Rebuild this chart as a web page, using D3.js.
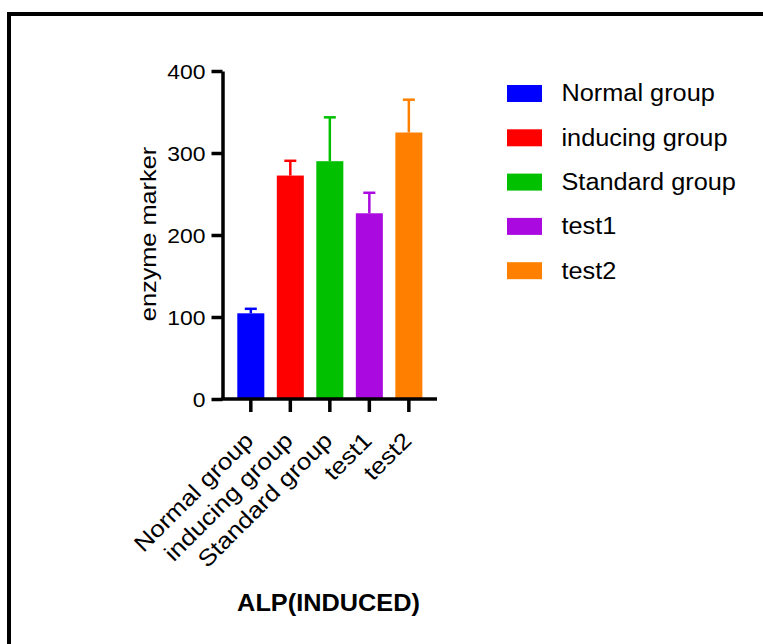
<!DOCTYPE html>
<html><head><meta charset="utf-8">
<script src="https://cdn.jsdelivr.net/npm/d3@7"></script>
<style>body{margin:0;background:#fff}svg{display:block}text{font-family:"Liberation Sans",Arial,sans-serif;fill:#000}</style>
</head><body><svg id="c" width="763" height="644"></svg>
<script>
const categories = ["Normal group","inducing group","Standard group","test1","test2"];
const means = [104.5, 272.5, 290, 226.5, 325];
const errors = [5.5, 18, 53.5, 25, 40];
const colors = ["#0000FF","#FF0000","#00C000","#AA0ADF","#FF8000"];
const yTicks = [0,100,200,300,400];
const yLabel = "enzyme marker";
const title = "ALP(INDUCED)";

const svg = d3.select("#c");
// frame
svg.append("path").attr("d","M9,800 V14 H900").attr("fill","none").attr("stroke","#000").attr("stroke-width",4);

const x = d3.scaleBand().domain(categories).range([231.06, 428.6]).paddingInner(0.316).paddingOuter(0.158);
const y = d3.scaleLinear().domain([0,400]).range([399,71]);
const X0 = 222.5;

function stretch(sel, k){ sel.each(function(){ const L=this.getComputedTextLength(); d3.select(this).attr("textLength",L*k).attr("lengthAdjust","spacingAndGlyphs"); }); }

// bars
svg.append("g").selectAll("rect").data(categories).join("rect")
  .attr("x",d=>x(d)).attr("width",x.bandwidth())
  .attr("y",(d,i)=>y(means[i])).attr("height",(d,i)=>y(0)-y(means[i]))
  .attr("fill",(d,i)=>colors[i]);
// error bars
const eg = svg.append("g").attr("stroke-width",2.5).attr("fill","none");
categories.forEach((d,i)=>{
  const cx = x(d)+x.bandwidth()/2;
  eg.append("line").attr("x1",cx).attr("x2",cx).attr("y1",y(means[i])).attr("y2",y(means[i]+errors[i])).attr("stroke",colors[i]);
  eg.append("line").attr("x1",cx-6).attr("x2",cx+6).attr("y1",y(means[i]+errors[i])).attr("y2",y(means[i]+errors[i])).attr("stroke",colors[i]);
});

// y axis
const ya = svg.append("g").attr("transform",`translate(${X0},0)`)
  .call(d3.axisLeft(y).tickValues(yTicks).tickSize(11).tickSizeOuter(0).tickPadding(6));
ya.select(".domain").attr("stroke-width",3.5);
ya.selectAll(".tick line").attr("stroke-width",3.5);
ya.selectAll(".tick text").attr("font-size",21).style("font-family","Liberation Sans, Arial, sans-serif").attr("dy","0.36em");
stretch(ya.selectAll(".tick text"),1.09);

// x axis
const xa = svg.append("g").attr("transform",`translate(0,${y(0)})`)
  .call(d3.axisBottom(x).tickSize(13).tickSizeOuter(0).tickFormat(""));
xa.select(".domain").remove();
xa.append("line").attr("x1",X0-1.5).attr("x2",437).attr("y1",0).attr("y2",0).attr("stroke","#000").attr("stroke-width",3.5);
xa.selectAll(".tick line").attr("stroke-width",3.5);
const xl = svg.append("g").selectAll("text").data(categories).join("text")
  .attr("text-anchor","end").attr("font-size",23)
  .attr("transform",d=>`translate(${x(d)+x.bandwidth()/2+4},${442}) rotate(-45)`)
  .text(d=>d);
stretch(xl,1.13);

// y label
const yl = svg.append("text").attr("text-anchor","middle").attr("font-size",22)
  .attr("transform","translate(156,234) rotate(-90)").text(yLabel);
stretch(yl,1.15);

// title
const tt = svg.append("text").attr("text-anchor","middle").attr("font-size",23).attr("font-weight","bold")
  .attr("x",328.5).attr("y",611).text(title);
stretch(tt,1.1);

// legend
const lg = svg.append("g");
categories.forEach((d,i)=>{
  const cy = 93.5 + i*44.3;
  lg.append("rect").attr("x",507).attr("y",cy-8.5).attr("width",35).attr("height",17).attr("fill",colors[i]);
  const t = lg.append("text").attr("x",561.5).attr("y",cy+7.8).attr("font-size",23).text(d);
  stretch(t,1.1);
});
</script></body></html>
